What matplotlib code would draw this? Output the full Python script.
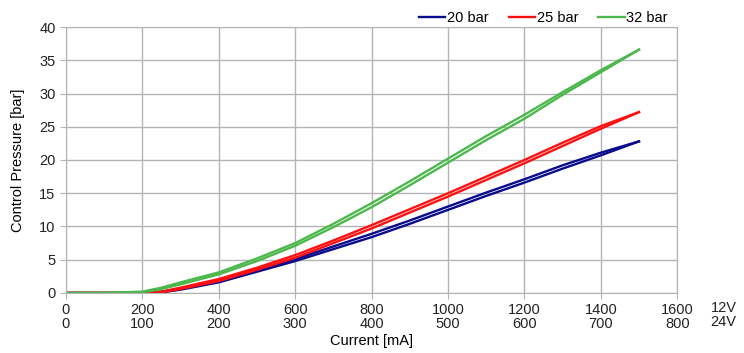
import matplotlib.pyplot as plt

plt.rcParams["font.family"] = ["Liberation Sans", "DejaVu Sans"]

# current at 12V scale [mA]
current = [0, 100, 200, 250, 300, 400, 500, 600, 700, 800, 900, 1000, 1100, 1200, 1300, 1400, 1500]

# rising / falling branches (hysteresis)
p20_up = [0, 0, 0, 0.1, 0.5, 1.6, 3.2, 4.8, 6.6, 8.4, 10.4, 12.5, 14.6, 16.6, 18.7, 20.7, 22.8]
p20_down = [0, 0, 0, 0.2, 0.7, 1.9, 3.5, 5.1, 7.0, 8.9, 10.9, 13.0, 15.1, 17.1, 19.2, 21.1, 22.8]
p25_up = [0, 0, 0, 0.1, 0.6, 1.8, 3.5, 5.3, 7.5, 9.7, 12.1, 14.5, 17.0, 19.5, 22.1, 24.7, 27.2]
p25_down = [0, 0, 0, 0.2, 0.8, 2.1, 3.8, 5.7, 7.9, 10.2, 12.6, 15.0, 17.5, 20.0, 22.6, 25.1, 27.2]
p32_up = [0, 0, 0.1, 0.6, 1.3, 2.8, 4.8, 7.1, 9.9, 12.9, 16.2, 19.6, 23.0, 26.2, 29.8, 33.2, 36.6]
p32_down = [0, 0, 0.2, 0.8, 1.6, 3.1, 5.2, 7.5, 10.4, 13.5, 16.8, 20.2, 23.6, 26.8, 30.2, 33.5, 36.6]

xticks = [0, 200, 400, 600, 800, 1000, 1200, 1400, 1600]
xlabels = ["0\n0", "200\n100", "400\n200", "600\n300", "800\n400",
           "1000\n500", "1200\n600", "1400\n700", "1600\n800"]

fig = plt.figure(figsize=(7.44, 3.53), dpi=100)
ax = fig.add_axes([0.0887, 0.17, 0.8215, 0.7535])

series = [
    ("20 bar", "#0a0a8c", p20_up, p20_down),
    ("25 bar", "#ff1010", p25_up, p25_down),
    ("32 bar", "#4cb84c", p32_up, p32_down),
]
for name, col, up, down in series:
    ax.plot(current, up, color=col, lw=1.7, label=name)
    ax.plot(current, down, color=col, lw=1.7)

ax.set_xlim(0, 1600)
ax.set_ylim(0, 40)
ax.set_xticks(xticks)
ax.set_xticklabels(xlabels, linespacing=1.0)
ax.set_yticks(range(0, 41, 5))
ax.grid(True, color="#b4b4b4", lw=1)
ax.set_axisbelow(True)
for s in ax.spines.values():
    s.set_color("#b4b4b4")
ax.tick_params(colors="#b4b4b4", labelcolor="#222222", labelsize=10.5, length=4)

ax.set_xlabel("Current [mA]", fontsize=10.5, labelpad=2)
ax.set_ylabel("Control Pressure [bar]", fontsize=10.5, labelpad=10)

fig.text(0.99, 0.108, "12V\n24V", ha="right", va="center", fontsize=10.5,
         linespacing=1.0, color="#222222", multialignment="right")

fig.legend(loc="upper right", bbox_to_anchor=(0.915, 1.005), ncol=3, frameon=False,
           fontsize=10.5, handlelength=1.8, handletextpad=0.1, columnspacing=1.4)

fig.savefig("out.png", dpi=100)
